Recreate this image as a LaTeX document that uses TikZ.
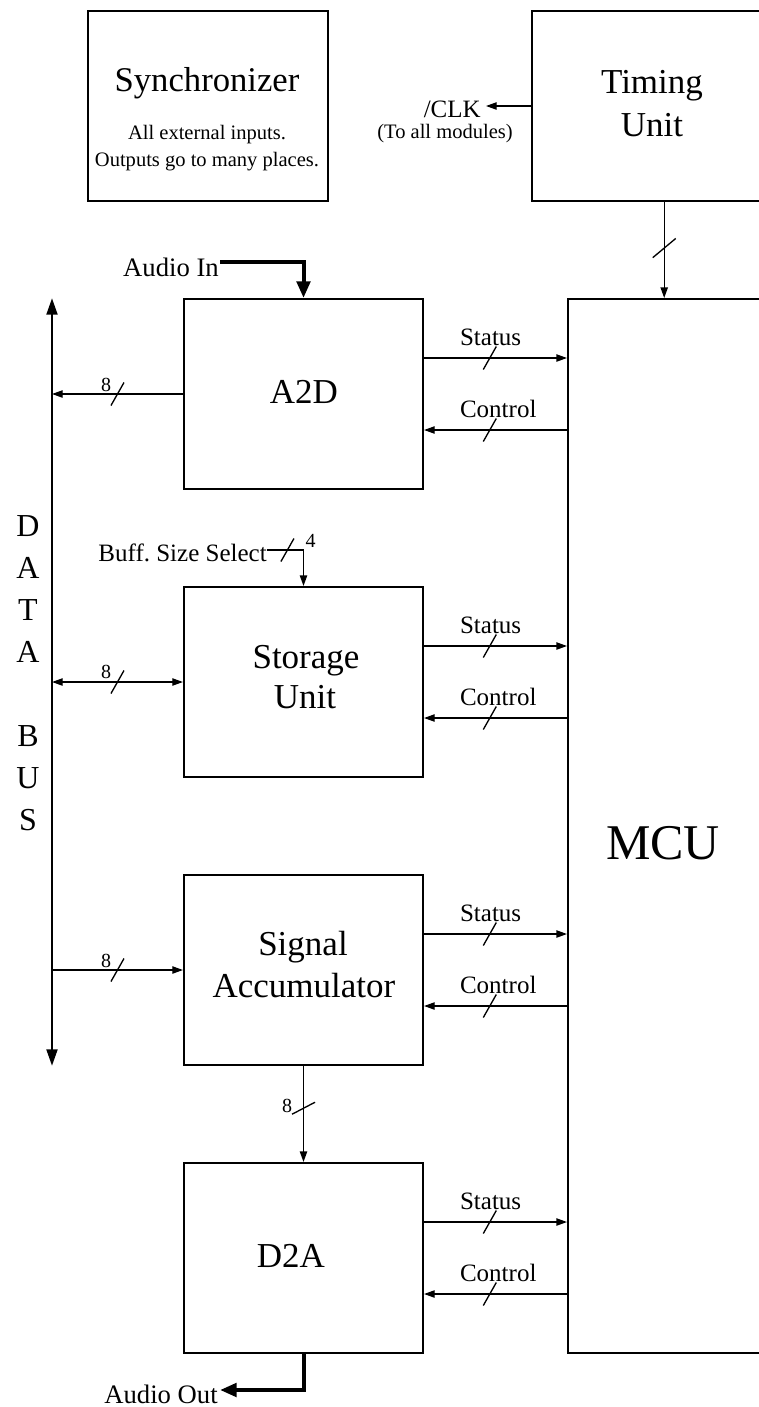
\documentclass[tikz,border=0pt]{standalone}
\usepackage{fontspec}
\setmainfont{Liberation Serif}
\usetikzlibrary{arrows.meta,calc}

\begin{document}
\begin{tikzpicture}[x=0.75pt, y=-0.75pt,
  box/.style={draw, line width=1.8pt, inner sep=0pt, minimum width=179pt, minimum height=142.2pt},
  ttl/.style={inner sep=0pt, anchor=base, font=\fontsize{26.25}{30}\selectfont},
  note/.style={inner sep=0pt, anchor=base, font=\fontsize{15.4}{18}\selectfont},
  sigtxt/.style={inner sep=0pt, anchor=base west, font=\fontsize{18.75}{22}\selectfont},
  num/.style={inner sep=0pt, anchor=base east, font=\fontsize{15}{18}\selectfont},
  iotxt/.style={inner sep=0pt, anchor=base east, font=\fontsize{20}{24}\selectfont},
  sig/.style={line width=1pt, -{Triangle[length=8pt,width=5.5pt]}},
  both/.style={line width=1pt, {Triangle[length=8pt,width=5.5pt]}-{Triangle[length=8pt,width=5.5pt]}},
  busline/.style={line width=2.2pt, {Triangle[length=12.5pt,width=8pt]}-{Triangle[length=12.5pt,width=8pt]}},
  audio/.style={line width=3pt, -{Triangle[length=12.5pt,width=10pt]}},
  hslash/.pic={\draw[line width=1pt] (-6.5,11.5) -- (6.5,-11.5);},
  vslash/.pic={\draw[line width=1pt] (-11.5,6) -- (11.5,-6);}
]
\useasboundingbox (0,0) rectangle (759,1407);
\clip (0,0) rectangle (759,1407);

% blocks
\node[box, minimum width=179.7pt] (sync) at (208,106) {};
\node[box, minimum width=179.7pt] (timing) at (652,106) {};
\node[box, minimum width=150pt, minimum height=790.2pt] (mcu) at (668.2,826) {};
\node[box] (a2d) at (303.5,394) {};
\node[box] (store) at (303.5,682) {};
\node[box] (acc) at (303.5,970) {};
\node[box] (d2a) at (303.5,1258) {};

% block texts
\node[ttl, font=\fontsize{26}{30}\selectfont] (synct) at (207,91) {Synchronizer};
\node[note] (syncn1) at (207,139) {All external inputs.};
\node[note] (syncn2) at (207,166) {Outputs go to many places.};
\node[ttl] (timt1) at (652,93) {Timing};
\node[ttl] (timt2) at (652,136) {Unit};
\node[ttl, font=\fontsize{37.5}{42}\selectfont] (mcut) at (663,859) {MCU};
\node[ttl] (a2dt) at (304,403) {A2D};
\node[ttl] (storet1) at (306,668) {Storage};
\node[ttl] (storet2) at (305,708) {Unit};
\node[ttl] (acct1) at (303,955) {Signal};
\node[ttl] (acct2) at (304,997) {Accumulator};
\node[ttl] (d2at) at (291,1267) {D2A};

% data bus
\coordinate (bustop) at (52,298);
\coordinate (busbot) at (52,1066);
\draw[busline] (busbot) -- (bustop);
\node[inner sep=0pt, anchor=north, align=center, font=\fontsize{24}{31.5}\selectfont] (dbus) at (28,515)
  {D\\A\\T\\A\\[31.5pt]B\\U\\S};

% clock
\coordinate (clkend) at (486,106);
\draw[sig] (timing.west) -- (clkend);
\node[sigtxt, anchor=base east] (clk) at (481,117) {/CLK};
\node[note] (clkn) at (445,138) {(To all modules)};
\draw[sig] ([xshift=-3pt]timing.south -| mcu.north) -- coordinate[pos=.48] (tm) ([xshift=-3pt]mcu.north);
\pic[yscale=1.6] at (tm) {vslash};

% audio in / out
\coordinate (ainend) at (220,262);
\node[iotxt] (ain) at (219,276) {Audio In};
\draw[audio] (ainend) -| (a2d.north);
\coordinate (aoutend) at (220,1390);
\node[iotxt] (aout) at (218,1403) {Audio Out};
\draw[audio] (d2a.south) |- (aoutend);

% buffer size select
\coordinate (buffend) at (267,550);
\node[iotxt, font=\fontsize{18.75}{22}\selectfont] (buff) at (267,561) {Buff.\ Size Select};
\draw[sig] (buffend) -| coordinate[pos=.28] (sb) (store.north);
\pic at (sb) {hslash};
\node[num, anchor=base west] (nb) at ($(sb)+(18,-3)$) {4};

% bus connections
\draw[sig] (a2d.west) -- coordinate (b1) (a2d.west -| bustop);
\pic at (b1) {hslash};
\node[num] (n1) at ($(b1)+(-6,-3)$) {8};
\draw[both] (store.west -| bustop) -- coordinate (b2) (store.west);
\pic at (b2) {hslash};
\node[num] (n2) at ($(b2)+(-6,-4)$) {8};
\draw[sig] (acc.west -| bustop) -- coordinate (b3) (acc.west);
\pic at (b3) {hslash};
\node[num] (n3) at ($(b3)+(-6,-3)$) {8};
\draw[sig] (acc.south) -- coordinate[pos=.44] (b4) (d2a.north);
\pic at (b4) {vslash};
\node[num] (n4) at ($(b4)+(-11,4)$) {8};

% status / control to MCU
\draw[sig] ([yshift=27pt]a2d.east) -- coordinate[pos=.46] (sa1) ([yshift=27pt]a2d.east -| mcu.west);
\pic at (sa1) {hslash};
\node[sigtxt] (lsa1) at ($(sa1)+(-30,-13)$) {Status};
\draw[sig] ([yshift=-27pt]a2d.east -| mcu.west) -- coordinate[pos=.54] (ca1) ([yshift=-27pt]a2d.east);
\pic at (ca1) {hslash};
\node[sigtxt] (lca1) at ($(ca1)+(-30,-13)$) {Control};

\draw[sig] ([yshift=27pt]store.east) -- coordinate[pos=.46] (sa2) ([yshift=27pt]store.east -| mcu.west);
\pic at (sa2) {hslash};
\node[sigtxt] (lsa2) at ($(sa2)+(-30,-13)$) {Status};
\draw[sig] ([yshift=-27pt]store.east -| mcu.west) -- coordinate[pos=.54] (ca2) ([yshift=-27pt]store.east);
\pic at (ca2) {hslash};
\node[sigtxt] (lca2) at ($(ca2)+(-30,-13)$) {Control};

\draw[sig] ([yshift=27pt]acc.east) -- coordinate[pos=.46] (sa3) ([yshift=27pt]acc.east -| mcu.west);
\pic at (sa3) {hslash};
\node[sigtxt] (lsa3) at ($(sa3)+(-30,-13)$) {Status};
\draw[sig] ([yshift=-27pt]acc.east -| mcu.west) -- coordinate[pos=.54] (ca3) ([yshift=-27pt]acc.east);
\pic at (ca3) {hslash};
\node[sigtxt] (lca3) at ($(ca3)+(-30,-13)$) {Control};

\draw[sig] ([yshift=27pt]d2a.east) -- coordinate[pos=.46] (sa4) ([yshift=27pt]d2a.east -| mcu.west);
\pic at (sa4) {hslash};
\node[sigtxt] (lsa4) at ($(sa4)+(-30,-13)$) {Status};
\draw[sig] ([yshift=-27pt]d2a.east -| mcu.west) -- coordinate[pos=.54] (ca4) ([yshift=-27pt]d2a.east);
\pic at (ca4) {hslash};
\node[sigtxt] (lca4) at ($(ca4)+(-30,-13)$) {Control};
\end{tikzpicture}
\end{document}
